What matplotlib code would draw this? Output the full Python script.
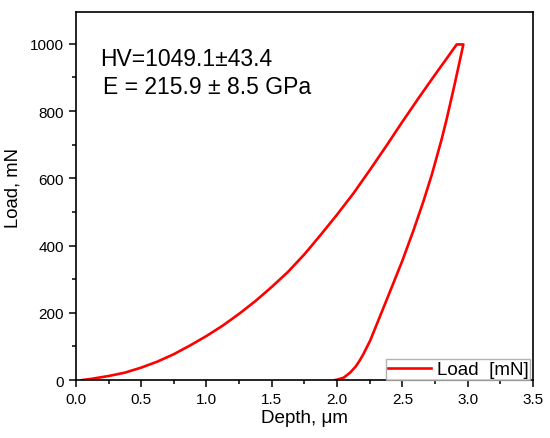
import matplotlib
matplotlib.use("Agg")
import matplotlib.pyplot as plt
from matplotlib.ticker import MultipleLocator

plt.rcParams["font.family"] = ["Liberation Sans", "DejaVu Sans"]

# loading branch (depth in um, load in mN)
load_depth = [0.05, 0.125, 0.25, 0.375, 0.5, 0.625, 0.75, 0.875, 1.0, 1.125, 1.25,
              1.375, 1.5, 1.625, 1.75, 1.875, 2.0, 2.125, 2.25, 2.375, 2.5, 2.625,
              2.75, 2.85, 2.916]
load_force = [0, 4, 12, 22, 37, 55, 77, 103, 131, 162, 197,
              235, 277, 322, 374, 432, 492, 555, 624, 695, 768, 839,
              908, 962, 998]

# hold + unloading branch
unload_depth = [2.967, 2.90, 2.84, 2.80, 2.725, 2.66, 2.585, 2.50, 2.40, 2.35, 2.30,
                2.253, 2.20, 2.17, 2.14, 2.10, 2.05, 2.00, 1.985]
unload_force = [998, 879, 777, 715, 610, 530, 445, 355, 258, 210, 162,
                117, 76, 56, 39, 22, 7, 1, 0]

depth = load_depth + unload_depth
force = load_force + unload_force

fig = plt.figure(figsize=(5.5, 4.39), dpi=100)
ax = fig.add_axes([0.138, 0.132, 0.831, 0.838])

ax.plot(depth, force, color="#ff0000", lw=1.9, label="Load  [mN]")

ax.set_xlim(0, 3.5)
ax.set_ylim(0, 1094)
ax.xaxis.set_major_locator(MultipleLocator(0.5))
ax.xaxis.set_minor_locator(MultipleLocator(0.25))
ax.yaxis.set_major_locator(MultipleLocator(200))
ax.yaxis.set_minor_locator(MultipleLocator(100))
ax.tick_params(which="major", direction="out", length=5, width=1.1, labelsize=11)
ax.tick_params(which="minor", direction="out", length=3, width=1.1)
for s in ax.spines.values():
    s.set_linewidth(1.2)

ax.set_xlabel("Depth, μm", fontsize=13.6, labelpad=2)
ax.set_ylabel("Load, mN", fontsize=13.3, labelpad=4)
ax.yaxis.set_label_coords(-0.12, 0.524)

ax.text(0.185, 937, "HV=1049.1±43.4", fontsize=16.5)
ax.text(0.21, 853, "E = 215.9 ± 8.5 GPa", fontsize=16.5)

leg = ax.legend(loc="lower right", bbox_to_anchor=(0.994, 0.0), borderaxespad=0,
                fontsize=13.5, fancybox=False, handlelength=2.3, handletextpad=0.3,
                borderpad=0.1, handleheight=0.6)
leg.get_frame().set_edgecolor("#a0a0a0")
leg.get_frame().set_linewidth(1.0)

fig.savefig("out.png", dpi=100)
